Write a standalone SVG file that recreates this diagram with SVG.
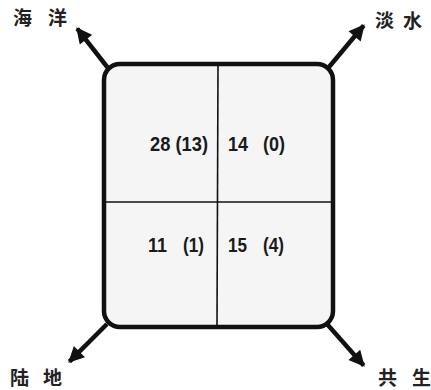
<svg xmlns="http://www.w3.org/2000/svg" width="431" height="390" viewBox="0 0 431 390">
<style>
.lbl{font-family:"Noto Sans CJK SC","Liberation Sans",sans-serif;font-size:19px;font-weight:bold;fill:#222}
.num{font-family:"Liberation Sans",Arial,sans-serif;font-size:21px;font-weight:bold;fill:#1a1a1a}
.arr{stroke:#111;stroke-width:4.5;fill:none;marker-end:url(#ah)}
.div{stroke:#111;stroke-width:1.6}
</style>
<defs>
<marker id="ah" viewBox="0 0 10 10" refX="9" refY="5" markerWidth="3.8" markerHeight="3.5" orient="auto" markerUnits="strokeWidth">
<path d="M0,0 L10,5 L0,10 z" fill="#111"/>
</marker>
</defs>
<rect width="431" height="390" fill="#fff"/>
<g id="connectors">
<line class="arr" x1="108" y1="68" x2="77.2" y2="28.6"/>
<line class="arr" x1="329" y1="67" x2="363.7" y2="25.5"/>
<line class="arr" x1="107" y1="324" x2="69.4" y2="361.6"/>
<line class="arr" x1="327" y1="324" x2="363.7" y2="365.5"/>
</g>
<g id="box">
<rect x="104" y="64" width="229" height="263" rx="16" fill="#f5f5f5" stroke="#111" stroke-width="4.5"/>
<line class="div" x1="218" y1="66" x2="217" y2="325"/>
<line class="div" x1="106" y1="202" x2="331" y2="202"/>
</g>
<g id="cell-tl"><text class="num" x="150" y="151" textLength="58" lengthAdjust="spacingAndGlyphs">28 (13)</text></g>
<g id="cell-tr"><text class="num" x="228" y="151" textLength="20" lengthAdjust="spacingAndGlyphs">14</text><text class="num" x="263" y="151" textLength="22" lengthAdjust="spacingAndGlyphs">(0)</text></g>
<g id="cell-bl"><text class="num" x="148" y="252" textLength="19" lengthAdjust="spacingAndGlyphs">11</text><text class="num" x="183" y="252" textLength="21" lengthAdjust="spacingAndGlyphs">(1)</text></g>
<g id="cell-br"><text class="num" x="228" y="252" textLength="19" lengthAdjust="spacingAndGlyphs">15</text><text class="num" x="263" y="252" textLength="21" lengthAdjust="spacingAndGlyphs">(4)</text></g>
<g id="ocean"><text class="lbl" x="13" y="25">海</text><text class="lbl" x="48" y="25">洋</text></g>
<g id="fresh"><text class="lbl" x="375" y="28">淡</text><text class="lbl" x="403" y="28">水</text></g>
<g id="land"><text class="lbl" x="10" y="385">陆</text><text class="lbl" x="43" y="385">地</text></g>
<g id="symb"><text class="lbl" x="378" y="385">共</text><text class="lbl" x="412" y="385">生</text></g>
</svg>
